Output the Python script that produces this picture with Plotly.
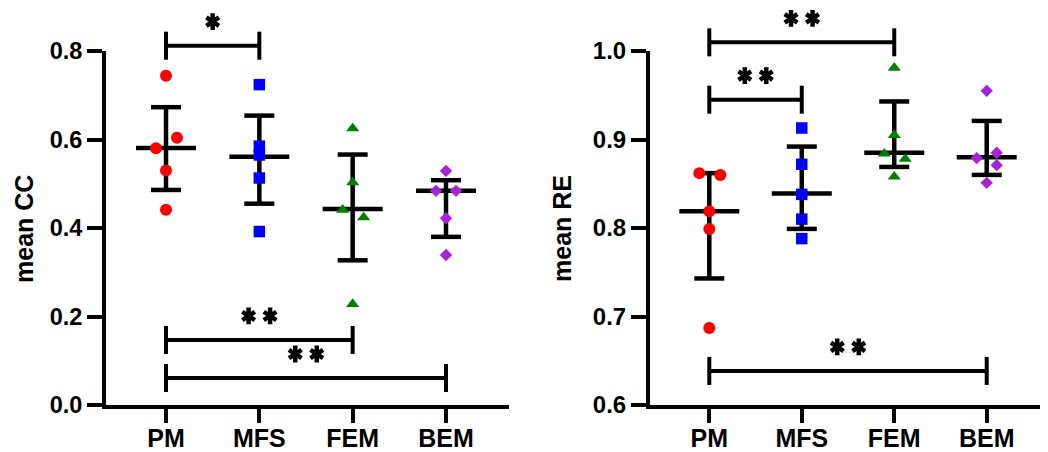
import plotly.graph_objects as go

# ---------------- data ----------------
categories = ["PM", "MFS", "FEM", "BEM"]

# mean CC per subject (left panel)
cc_pm = [0.744, 0.604, 0.580, 0.530, 0.441]
cc_mfs = [0.724, 0.585, 0.565, 0.513, 0.392]
cc_fem = [0.625, 0.503, 0.441, 0.424, 0.228]
cc_bem = [0.529, 0.484, 0.484, 0.422, 0.339]
cc_median = [0.581, 0.561, 0.443, 0.484]
cc_upper = [0.673, 0.654, 0.566, 0.508]
cc_lower = [0.486, 0.455, 0.327, 0.380]

# mean RE per subject (right panel)
re_pm = [0.862, 0.860, 0.819, 0.799, 0.687]
re_mfs = [0.913, 0.872, 0.838, 0.810, 0.788]
re_fem = [0.981, 0.905, 0.884, 0.878, 0.858]
re_bem = [0.955, 0.885, 0.879, 0.871, 0.851]
re_median = [0.819, 0.839, 0.885, 0.880]
re_upper = [0.862, 0.892, 0.943, 0.921]
re_lower = [0.743, 0.799, 0.869, 0.860]

# significance brackets
cc_sig_from = ["PM", "PM", "PM"]
cc_sig_to = ["MFS", "FEM", "BEM"]
cc_sig_level = [0.812, 0.147, 0.061]
cc_sig_label = ["*", "**", "**"]

re_sig_from = ["PM", "PM", "PM"]
re_sig_to = ["FEM", "MFS", "BEM"]
re_sig_level = [1.0098, 0.945, 0.6385]
re_sig_label = ["**", "**", "**"]

cc_ticks = [0.0, 0.2, 0.4, 0.6, 0.8]
re_ticks = [0.6, 0.7, 0.8, 0.9, 1.0]

# ---------------- style / layout ----------------
OFF = 8                      # page body margin of the exported html
W, H = 1048 - OFF, 452 - OFF  # figure size so the page fills the window
FONT = "Liberation Sans, Arial, sans-serif"
colors = ["#FF0000", "#0000FF", "#008000", "#A822DC"]
symbols = ["circle", "square", "triangle-up", "diamond"]
msizes = [12, 11.5, 11.5, 9.5]
# horizontal jitter (pixels) for overlapping points
cc_jitter = [[0, 11, -10, 0, 0], [0, 0, 0, 0, 0], [0, 0, -10, 11, 0], [0, -10, 10, 0, 0]]
re_jitter = [[-10, 11, 0, 0, 0], [0, 0, 0, 0, 0], [0, 0, -10, 11, 0], [0, 10, -10, 10, 0]]

# panel geometry in window pixels
panels = [
    dict(dom_px=(106, 509), cat0=166.0, step=93.33, y_px=(405, 51), yr=(0.0, 0.8),
         groups=[cc_pm, cc_mfs, cc_fem, cc_bem], jit=cc_jitter,
         med=cc_median, up=cc_upper, lo=cc_lower,
         sf=cc_sig_from, st=cc_sig_to, sl=cc_sig_level, slab=cc_sig_label,
         ticks=cc_ticks, title="mean CC", title_px=(24, 229), tfs=23.5),
    dict(dom_px=(650, 1048), cat0=709.3, step=92.47, y_px=(405, 51), yr=(0.6, 1.0),
         groups=[re_pm, re_mfs, re_fem, re_bem], jit=re_jitter,
         med=re_median, up=re_upper, lo=re_lower,
         sf=re_sig_from, st=re_sig_to, sl=re_sig_level, slab=re_sig_label,
         ticks=re_ticks, title="mean RE", title_px=(562, 229), tfs=24),
]


def px_x(px):
    return (px - OFF) / W


def px_y(py):
    return 1 - (py - OFF) / H


fig = go.Figure()
layout = dict(template="none", width=W, height=H,
              margin=dict(l=0, r=0, t=0, b=0, autoexpand=False),
              paper_bgcolor="white", plot_bgcolor="rgba(0,0,0,0)",
              showlegend=False, annotations=[])

for i, p in enumerate(panels):
    n = i + 1
    xa, ya, ya_ext = f"x{'' if n == 1 else n}", f"y{'' if n == 1 else n}", f"y{n + 2}"
    step = p["step"]
    xr = [(p["dom_px"][0] - p["cat0"]) / step, (p["dom_px"][1] - p["cat0"]) / step]
    bot, top = p["y_px"]
    ppu = (bot - top) / (p["yr"][1] - p["yr"][0])
    ext = [p["yr"][0] - (H + OFF - bot) / ppu, p["yr"][1] + (top - OFF) / ppu]

    layout[f"xaxis{'' if n == 1 else n}"] = dict(
        domain=[px_x(p["dom_px"][0]), min(1.0, px_x(p["dom_px"][1]))], range=xr, anchor=ya,
        automargin=False,
        tickmode="array", tickvals=list(range(len(categories))), ticktext=categories,
        ticks="outside", ticklen=14, tickwidth=4, tickcolor="black",
        ticklabelstandoff=-6,
        showline=True, linewidth=4, linecolor="black", showgrid=False, zeroline=False,
        tickfont=dict(family=FONT, size=25, color="black", weight="bold"))
    layout[f"yaxis{'' if n == 1 else n}"] = dict(
        domain=[px_y(bot), px_y(top)], range=list(p["yr"]), anchor=xa,
        automargin=False,
        tickmode="array", tickvals=p["ticks"], ticktext=[f"{t:.1f}" for t in p["ticks"]],
        ticks="outside", ticklen=15, tickwidth=4, tickcolor="black",
        showline=True, linewidth=4, linecolor="black", showgrid=False, zeroline=False,
        tickfont=dict(family=FONT, size=p["tfs"], color="black", weight="bold"))
    layout[f"yaxis{n + 2}"] = dict(domain=[0, 1], range=ext, anchor=xa, visible=False,
                                   automargin=False)

    # median + interquartile error bars
    mh, ch = 30 / step, 15 / step
    lx, ly = [], []
    for k in range(len(categories)):
        lx += [k - mh, k + mh, None, k, k, None, k - ch, k + ch, None, k - ch, k + ch, None]
        ly += [p["med"][k], p["med"][k], None, p["lo"][k], p["up"][k], None,
               p["up"][k], p["up"][k], None, p["lo"][k], p["lo"][k], None]
    fig.add_trace(go.Scatter(x=lx, y=ly, mode="lines", line=dict(color="black", width=4.5),
                             xaxis=xa, yaxis=ya, hoverinfo="skip"))

    # individual points
    for k, vals in enumerate(p["groups"]):
        fig.add_trace(go.Scatter(
            x=[k + j / step for j in p["jit"][k]], y=vals, mode="markers",
            marker=dict(symbol=symbols[k], size=msizes[k], color=colors[k], line=dict(width=0)),
            xaxis=xa, yaxis=ya, cliponaxis=False))

    # significance brackets
    bx, by, sx, sy = [], [], [], []
    tk = 14 / ppu
    for a, b, lev, lab in zip(p["sf"], p["st"], p["sl"], p["slab"]):
        x0, x1 = categories.index(a), categories.index(b)
        bx += [x0, x0, None, x0, x1, None, x1, x1, None]
        by += [lev + tk, lev - tk, None, lev, lev, None, lev + tk, lev - tk, None]
        mid = (x0 + x1) / 2
        ns = len(lab)
        for s in range(ns):
            sx.append(mid + (s - (ns - 1) / 2) * 21.5 / step)
            sy.append(lev + 24 / ppu)
    fig.add_trace(go.Scatter(x=bx, y=by, mode="lines", line=dict(color="black", width=4),
                             xaxis=xa, yaxis=ya_ext, hoverinfo="skip"))
    for sym in ["y-up-open", "y-down-open"]:
        fig.add_trace(go.Scatter(x=sx, y=sy, mode="markers",
                                 marker=dict(symbol=sym, size=10.5, color="black",
                                             line=dict(width=4.5, color="black")),
                                 xaxis=xa, yaxis=ya_ext, cliponaxis=False, hoverinfo="skip"))

    layout["annotations"].append(dict(
        text=p["title"], x=px_x(p["title_px"][0]), y=px_y(p["title_px"][1]),
        xref="paper", yref="paper", showarrow=False, textangle=-90,
        xanchor="center", yanchor="middle",
        font=dict(family=FONT, size=25, color="black", weight="bold")))

fig.update_layout(**layout)
fig.write_html("out.html")
